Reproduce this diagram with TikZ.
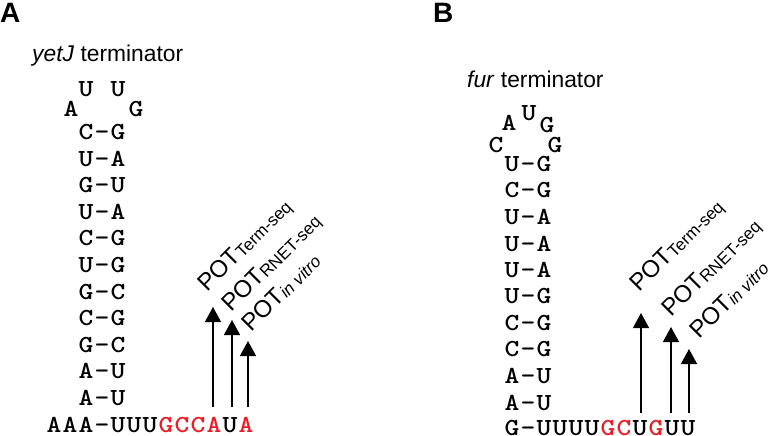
\documentclass[tikz,border=0pt]{standalone}
\usepackage{fontspec}
\usepackage{graphicx}
\setmainfont{Liberation Sans}
\newfontfamily\ntfont{lmmonolt10-bold.otf}
\usetikzlibrary{arrows.meta}
\definecolor{ntred}{RGB}{237,28,36}
% fixed pitch for the bases
\newcommand\ntrow[1]{\ntrowi#1\relax}
\def\ntrowi#1{\ifx#1\relax\else\makebox[16pt]{\scalebox{1.15}[1]{#1}}\expandafter\ntrowi\fi}
\newcommand\potsub[1]{\raisebox{-1pt}{\fontsize{17}{18}\selectfont #1}}

\begin{document}
\begin{tikzpicture}[x=1pt,y=-1pt,
  nt/.style={font=\fontsize{24.5}{24.5}\ntfont, inner sep=0pt},
  ttl/.style={font=\fontsize{22.8}{24}\selectfont, inner sep=0pt, anchor=base west},
  pan/.style={font=\fontsize{28}{28}\selectfont\bfseries, inner sep=0pt, anchor=base west},
  pot/.style={line width=1.3pt, -{Triangle[width=16pt,length=15pt]}},
  lab/.style={rotate=45, anchor=base west, inner sep=0pt, font=\fontsize{24}{24}\selectfont}]
\useasboundingbox (0,0) rectangle (776,436);

% panel A
\node[pan] (pa) at (0,23) {A} ;
\node[ttl] (ta) at (32,62) {\textit{yetJ} terminator} ;
\node[nt] (la1) at (86,89) {\ntrow{U}} ;
\node[nt] (la2) at (118,89) {\ntrow{U}} ;
\node[nt] (la3) at (71,109) {\ntrow{A}} ;
\node[nt] (la4) at (136,109) {\ntrow{G}} ;
\node[nt] (a1) at (102,132) {\ntrow{C-G}} ;
\node[nt] (a2) at (102,158.6) {\ntrow{U-A}} ;
\node[nt] (a3) at (102,185.2) {\ntrow{G-U}} ;
\node[nt] (a4) at (102,211.8) {\ntrow{U-A}} ;
\node[nt] (a5) at (102,238.4) {\ntrow{C-G}} ;
\node[nt] (a6) at (102,265) {\ntrow{U-G}} ;
\node[nt] (a7) at (102,291.6) {\ntrow{G-C}} ;
\node[nt] (a8) at (102,318.2) {\ntrow{C-G}} ;
\node[nt] (a9) at (102,344.8) {\ntrow{G-C}} ;
\node[nt] (a10) at (102,371.4) {\ntrow{A-U}} ;
\node[nt] (a11) at (102,398) {\ntrow{A-U}} ;
\node[nt] (sa) at (150,424.6) {\ntrow{AAA-UUU}\textcolor{ntred}{\ntrow{GCCA}}\ntrow{U}\textcolor{ntred}{\ntrow{A}}} ;
\coordinate (a1b) at (213,407) ;
\coordinate (a1t) at (213,307) ;
\coordinate (a2b) at (232,407) ;
\coordinate (a2t) at (232,320) ;
\coordinate (a3b) at (248,407) ;
\coordinate (a3t) at (248,341) ;
\draw[pot] (a1b) -- (a1t) ;
\draw[pot] (a2b) -- (a2t) ;
\draw[pot] (a3b) -- (a3t) ;
\node[lab] (pa1) at (207,293) {POT\potsub{Term-seq}} ;
\node[lab] (pa2) at (231,313) {POT\potsub{RNET-seq}} ;
\node[lab] (pa3) at (251,333) {POT\potsub{\itshape in vitro}} ;

% panel B
\node[pan] (pb) at (433,23) {B} ;
\node[ttl] (tb) at (467,88) {\textit{fur} terminator} ;
\node[nt] (lb1) at (509,123) {\ntrow{A}} ;
\node[nt] (lb2) at (529,113) {\ntrow{U}} ;
\node[nt] (lb3) at (547,125) {\ntrow{G}} ;
\node[nt] (lb4) at (496,145) {\ntrow{C}} ;
\node[nt] (lb5) at (555,145) {\ntrow{G}} ;
\node[nt] (b1) at (528,164) {\ntrow{U-G}} ;
\node[nt] (b2) at (528,190.5) {\ntrow{C-G}} ;
\node[nt] (b3) at (528,217) {\ntrow{U-A}} ;
\node[nt] (b4) at (528,243.5) {\ntrow{U-A}} ;
\node[nt] (b5) at (528,270) {\ntrow{U-A}} ;
\node[nt] (b6) at (528,296.5) {\ntrow{U-G}} ;
\node[nt] (b7) at (528,323) {\ntrow{C-G}} ;
\node[nt] (b8) at (528,349.5) {\ntrow{C-G}} ;
\node[nt] (b9) at (528,376) {\ntrow{A-U}} ;
\node[nt] (b10) at (528,402.5) {\ntrow{A-U}} ;
\node[nt] (sb) at (600,428) {\ntrow{G-UUUU}\textcolor{ntred}{\ntrow{GC}}\ntrow{U}\textcolor{ntred}{\ntrow{G}}\ntrow{UU}} ;
\coordinate (b1b) at (641,413) ;
\coordinate (b1t) at (641,313) ;
\coordinate (b2b) at (671,413) ;
\coordinate (b2t) at (671,327) ;
\coordinate (b3b) at (689,413) ;
\coordinate (b3t) at (689,349) ;
\draw[pot] (b1b) -- (b1t) ;
\draw[pot] (b2b) -- (b2t) ;
\draw[pot] (b3b) -- (b3t) ;
\node[lab] (pb1) at (639,293) {POT\potsub{Term-seq}} ;
\node[lab] (pb2) at (671,318) {POT\potsub{RNET-seq}} ;
\node[lab] (pb3) at (699,340) {POT\potsub{\itshape in vitro}} ;
\end{tikzpicture}
\end{document}
